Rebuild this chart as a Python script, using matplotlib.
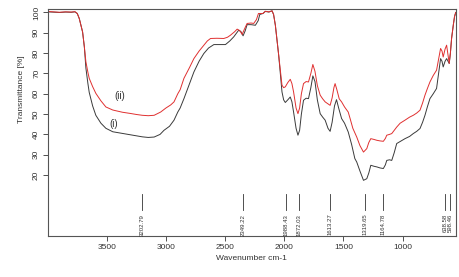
import matplotlib
matplotlib.use("Agg")
import matplotlib.pyplot as plt
import numpy as np

plt.rcParams['font.family'] = ['Liberation Sans', 'DejaVu Sans']

# Wavenumbers (cm-1) and transmittance (%)
wn_i = [4000, 3900, 3850, 3800, 3770, 3750, 3733, 3705, 3690, 3677, 3660, 3649, 3620, 3593,
        3550, 3508, 3450, 3368, 3300, 3200, 3150, 3100, 3050, 3017, 2970, 2932, 2900, 2880,
        2848, 2800, 2764, 2720, 2680, 2640, 2595, 2550, 2497, 2460, 2427, 2385, 2365, 2348,
        2330, 2314, 2280, 2244, 2220, 2207, 2180, 2160, 2130, 2103, 2090, 2075, 2060, 2047,
        2030, 2019, 2005, 1991, 1970, 1949, 1935, 1921, 1900, 1884, 1870, 1855, 1837, 1815,
        1795, 1775, 1758, 1740, 1720, 1696, 1675, 1654, 1630, 1612, 1595, 1575, 1558, 1540,
        1515, 1490, 1459, 1430, 1403, 1387, 1360, 1330, 1302, 1285, 1268, 1240, 1217, 1190,
        1162, 1145, 1133, 1110, 1091, 1070, 1049, 1020, 979, 940, 909, 880, 852, 830, 810,
        790, 768, 740, 712, 695, 678, 666, 656, 640, 627, 615, 605, 595, 585, 570, 560, 550]
t_i = [100.3, 100.0, 100.2, 100.1, 100.3, 99.5, 97, 90.4, 83, 72.6, 65, 60.7, 54, 49.4,
       45.5, 43, 41.3, 40.5, 39.8, 38.8, 38.5, 38.7, 40, 42, 44, 47, 51, 53,
       57.6, 65, 70.7, 76, 79.8, 82.5, 84.2, 84.2, 84.2, 86, 88, 91.3, 90.5, 88.5,
       91, 94, 94, 93.7, 96, 99, 99.5, 100.5, 100.2, 100.8, 99, 93.7, 86, 79,
       68, 60.9, 57, 55.7, 57, 58.4, 56, 51, 43, 39.6, 42, 50, 56.8, 57.8,
       57.6, 63, 68.8, 66, 57, 50.2, 48.5, 47, 43, 41.5, 46, 54, 57.1, 53,
       47.8, 45.5, 41.2, 35, 28.1, 26.4, 22, 17.4, 18.2, 21, 24.8, 24.3, 24, 23.5,
       23.2, 25, 27.2, 27.5, 27.2, 31, 35.5, 36.5, 37.9, 39, 40.4, 41.5, 42.9, 46, 49.4,
       53.5, 57.6, 60, 62.6, 70, 77.3, 76, 73.2, 76, 77.3, 76, 74.9, 80, 87.2, 94, 98, 100]

wn_ii = [4000, 3900, 3850, 3800, 3770, 3750, 3733, 3705, 3690, 3677, 3660, 3649, 3620, 3593,
         3550, 3508, 3450, 3368, 3300, 3250, 3200, 3150, 3100, 3045, 3000, 2960, 2932, 2900,
         2880, 2848, 2800, 2764, 2720, 2680, 2650, 2623, 2570, 2511, 2480, 2455, 2420, 2398,
         2375, 2356, 2335, 2314, 2280, 2258, 2235, 2218, 2180, 2160, 2130, 2103, 2090, 2075,
         2060, 2047, 2030, 2019, 2005, 1991, 1970, 1949, 1935, 1921, 1900, 1884, 1870, 1855,
         1837, 1815, 1795, 1775, 1758, 1740, 1720, 1696, 1675, 1654, 1630, 1612, 1595, 1580,
         1570, 1555, 1535, 1515, 1490, 1459, 1443, 1420, 1387, 1360, 1330, 1302, 1285, 1268,
         1240, 1217, 1190, 1162, 1145, 1133, 1110, 1091, 1070, 1049, 1020, 979, 940, 909,
         880, 852, 830, 810, 790, 768, 740, 712, 695, 678, 666, 656, 640, 627, 615, 605,
         595, 585, 570, 560, 550]
t_ii = [100.5, 100.1, 100.3, 100.2, 100.4, 99.5, 97, 90.4, 83, 75.7, 70.5, 67.6, 63.5, 60.2,
        56.5, 53.5, 52, 50.9, 50.3, 49.8, 49.4, 49.2, 49.4, 51, 53, 54.5, 56, 60,
        62, 67.6, 73, 77.3, 81, 83.9, 86, 87.2, 87.3, 87.2, 87.8, 88.8, 90.5, 91.8,
        91, 89.2, 92, 94.6, 94.8, 94.6, 96.5, 99.5, 99.5, 100.6, 100.3, 100.8, 99, 93.7,
        86, 79, 70, 64.2, 63, 63.4, 65.5, 67.1, 65, 60.9, 53, 50.2, 53, 60,
        65, 66, 65.8, 70, 74.4, 71, 64, 59.3, 57.5, 56, 55, 54.3, 58, 63,
        65, 62, 57.5, 56, 53.5, 51, 47.8, 43, 38.7, 34.5, 31.3, 33, 36, 37.9,
        37.5, 37.1, 36.8, 36.6, 38, 39.6, 40, 40.4, 42, 43.6, 45.5, 47, 48.5, 49.4,
        50.5, 51.9, 55.5, 59.3, 62.5, 65.8, 69, 71.6, 77, 82.3, 81, 78.1, 82, 83.9, 79, 74.9,
        80, 87.2, 94, 98, 100]

peak_wn = [3202.79, 2349.22, 1988.43, 1872.03, 1613.27, 1319.65, 1164.78, 638.58, 598.46]
peak_labels = ["3202.79", "2349.22", "1988.43", "1872.03", "1613.27", "1319.65", "1164.78",
               "638.58", "598.46"]

x_ticks = [3500, 3000, 2500, 2000, 1500, 1000]
y_ticks = [20, 30, 40, 50, 60, 70, 80, 90, 100]

fig = plt.figure(figsize=(4.6, 2.77), dpi=100)
ax = fig.add_axes([0.1037, 0.148, 0.887, 0.818])

ax.plot(wn_i, t_i, color="#3a3a3a", lw=0.7)
ax.plot(wn_ii, t_ii, color="#e03030", lw=0.7)

for w, lab in zip(peak_wn, peak_labels):
    ax.plot([w, w], [2.6, 10.5], color="#333333", lw=0.6)
    ax.text(w, 1.0, lab, rotation=90, ha="center", va="top", fontsize=4.3, color="#333333")

ax.text(3395, 59, "(ii)", fontsize=7, ha="center", va="center", color="#333333")
ax.text(3441, 45, "(i)", fontsize=7, ha="center", va="center", color="#333333")

ax.set_xlim(4000, 550)
ax.set_ylim(-10, 101.5)
ax.set_xticks(x_ticks)
ax.set_yticks(y_ticks)
ax.set_yticklabels([str(v) for v in y_ticks], rotation=90, va="center")
ax.tick_params(labelsize=6, length=3.5, width=0.6, colors="#333333", pad=2)
for s in ax.spines.values():
    s.set_linewidth(0.8)
    s.set_color("#555555")

ax.set_xlabel("Wavenumber cm-1", fontsize=6, color="#333333", labelpad=3)
ax.set_ylabel("Transmittance [%]", fontsize=6, color="#333333", labelpad=3)
ax.yaxis.set_label_coords(-0.055, 0.65)

fig.savefig("out.png", dpi=100)
